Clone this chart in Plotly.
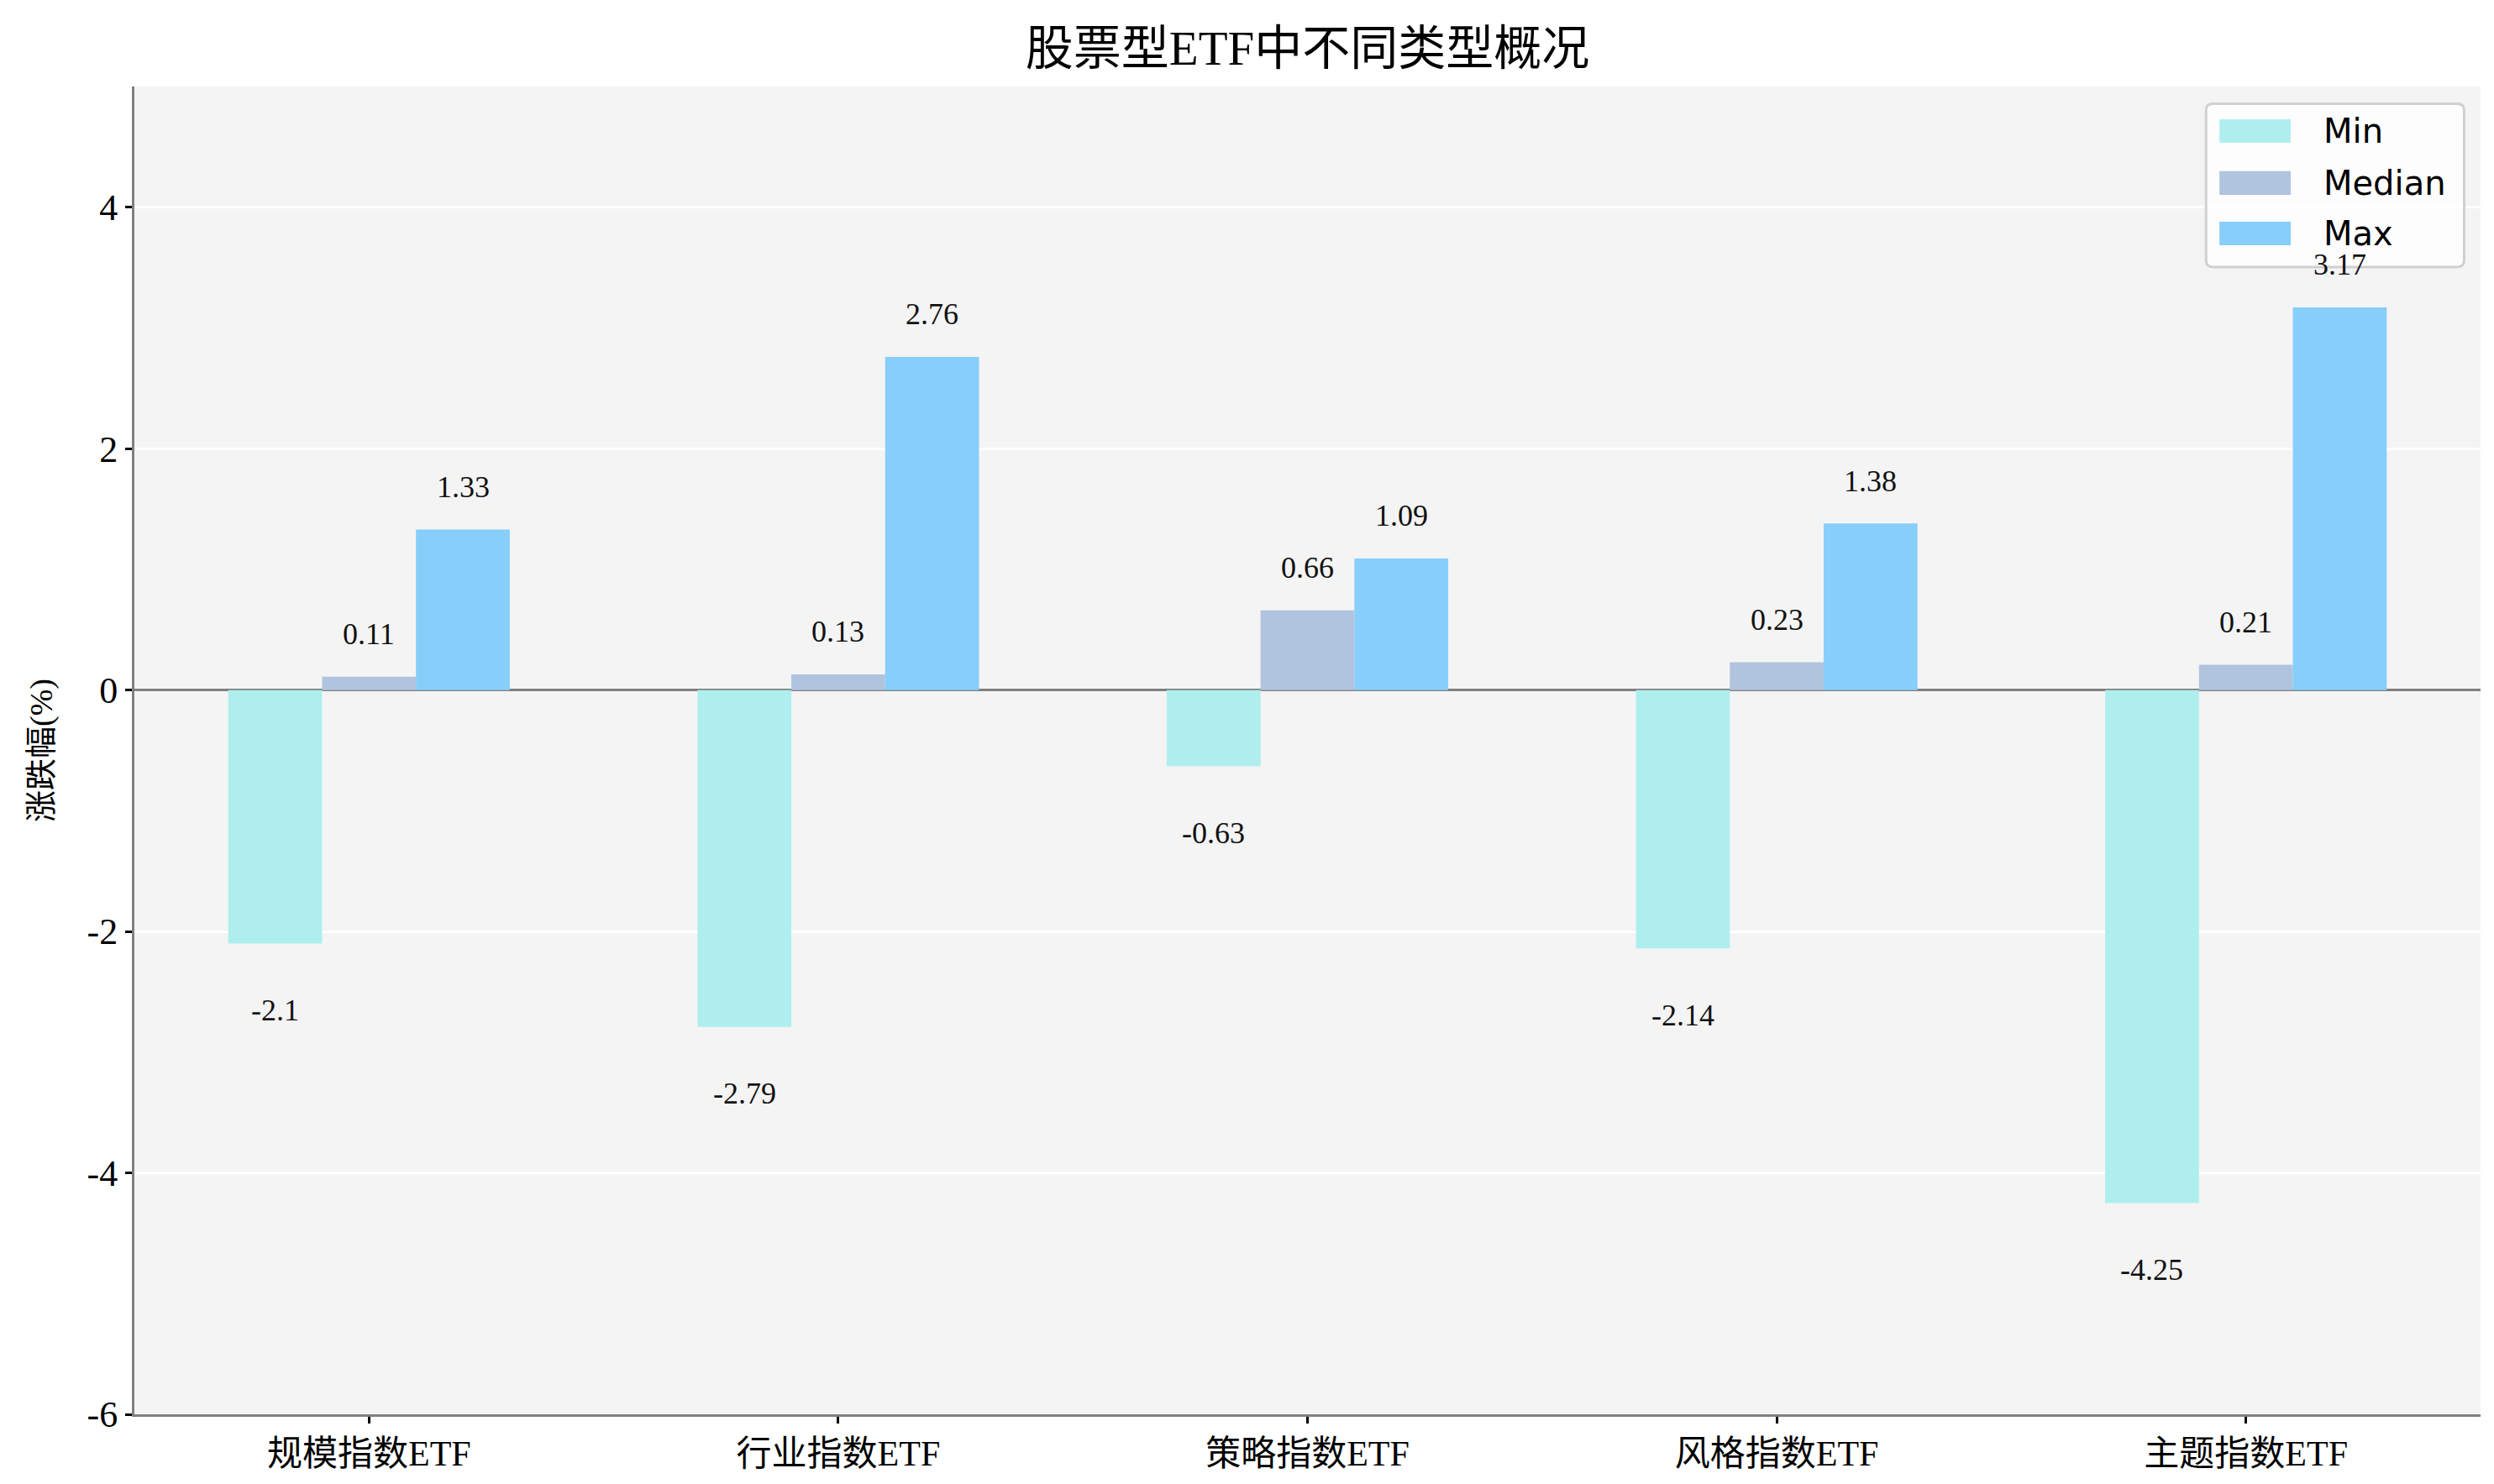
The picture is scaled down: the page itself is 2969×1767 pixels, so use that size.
import plotly.graph_objects as go

# 数据
categories = ["规模指数ETF", "行业指数ETF", "策略指数ETF", "风格指数ETF", "主题指数ETF"]
min_vals = [-2.1, -2.79, -0.63, -2.14, -4.25]
median_vals = [0.11, 0.13, 0.66, 0.23, 0.21]
max_vals = [1.33, 2.76, 1.09, 1.38, 3.17]
y_ticks = [-6, -4, -2, 0, 2, 4]
y_ticktext = ["-6", "-4", "-2", "0", "2", "4"]

series = [
    ("Min", min_vals, "#AFEEEE"),
    ("Median", median_vals, "#B0C4DE"),
    ("Max", max_vals, "#87CEFA"),
]

FONT = "Liberation Serif, Noto Sans CJK SC, serif"
idx = list(range(len(categories)))

fig = go.Figure()
for name, vals, color in series:
    fig.add_trace(go.Bar(x=idx, y=vals, name=name, marker_color=color,
                         marker_line_width=0, showlegend=False))

# 数值标签
bar_w = 0.2
annotations = []
for k, (name, vals, color) in enumerate(series):
    off = (k - 1) * bar_w
    for i, v in enumerate(vals):
        if v >= 0:
            annotations.append(dict(x=i + off, y=v + 0.2, text=f"{v:g}", showarrow=False,
                                    yanchor="bottom", xanchor="center",
                                    font=dict(family=FONT, size=36, color="#111")))
        else:
            annotations.append(dict(x=i + off, y=v - 0.4, text=f"{v:g}", showarrow=False,
                                    yanchor="top", xanchor="center",
                                    font=dict(family=FONT, size=36, color="#111")))

# 图例（手动绘制，宽色块）
shapes = []
lx0, lx1, ly0, ly1 = 0.883, 0.993, 0.864, 0.987
rx, ry = 0.003, 0.005
shapes.append(dict(
    type="path", xref="paper", yref="paper", layer="above",
    path=(f"M{lx0+rx},{ly0} L{lx1-rx},{ly0} Q{lx1},{ly0} {lx1},{ly0+ry} "
          f"L{lx1},{ly1-ry} Q{lx1},{ly1} {lx1-rx},{ly1} L{lx0+rx},{ly1} "
          f"Q{lx0},{ly1} {lx0},{ly1-ry} L{lx0},{ly0+ry} Q{lx0},{ly0} {lx0+rx},{ly0} Z"),
    fillcolor="rgba(255,255,255,0.8)", line=dict(color="#D0D0D0", width=3),
))
row_y = [0.9665, 0.9273, 0.8893]
for (name, vals, color), yc in zip(series, row_y):
    shapes.append(dict(type="rect", xref="paper", yref="paper", layer="above",
                       x0=0.8887, x1=0.9191, y0=yc - 0.0089, y1=yc + 0.0089,
                       fillcolor=color, line=dict(width=0)))
    annotations.append(dict(x=0.9323, y=yc, xref="paper", yref="paper", text=name,
                            showarrow=False, xanchor="left", yanchor="middle",
                            font=dict(family="DejaVu Sans", size=40, color="black")))

fig.update_layout(
    width=2969, height=1767,
    barmode="group", bargap=0.4, bargroupgap=0,
    plot_bgcolor="#F4F4F4", paper_bgcolor="white",
    margin=dict(l=152, r=24, t=95, b=91),
    title=dict(text="股票型ETF中不同类型概况", x=0.5, xref="paper", xanchor="center",
               y=0.972, yanchor="middle",
               font=dict(family=FONT, size=57, color="black")),
    font=dict(family=FONT, size=42, color="black"),
    annotations=annotations,
    shapes=shapes,
    showlegend=False,
)

fig.update_xaxes(
    tickmode="array", tickvals=idx, ticktext=categories, range=[-0.5, 4.5],
    showgrid=False, showline=True, linecolor="#808080", linewidth=3,
    ticks="outside", ticklen=8, tickwidth=3, tickcolor="black",
    tickfont=dict(family=FONT, size=42), zeroline=False,
)
fig.update_yaxes(
    tickmode="array", tickvals=y_ticks, ticktext=y_ticktext, range=[-6, 5],
    showgrid=True, gridcolor="white", gridwidth=3,
    showline=True, linecolor="#808080", linewidth=3,
    ticks="outside", ticklen=8, tickwidth=3, tickcolor="black",
    tickfont=dict(family="Liberation Serif", size=44),
    zeroline=True, zerolinecolor="#808080", zerolinewidth=3,
    title=dict(text="涨跌幅(%)", font=dict(family=FONT, size=38), standoff=30),
)

fig.write_html("out.html")
